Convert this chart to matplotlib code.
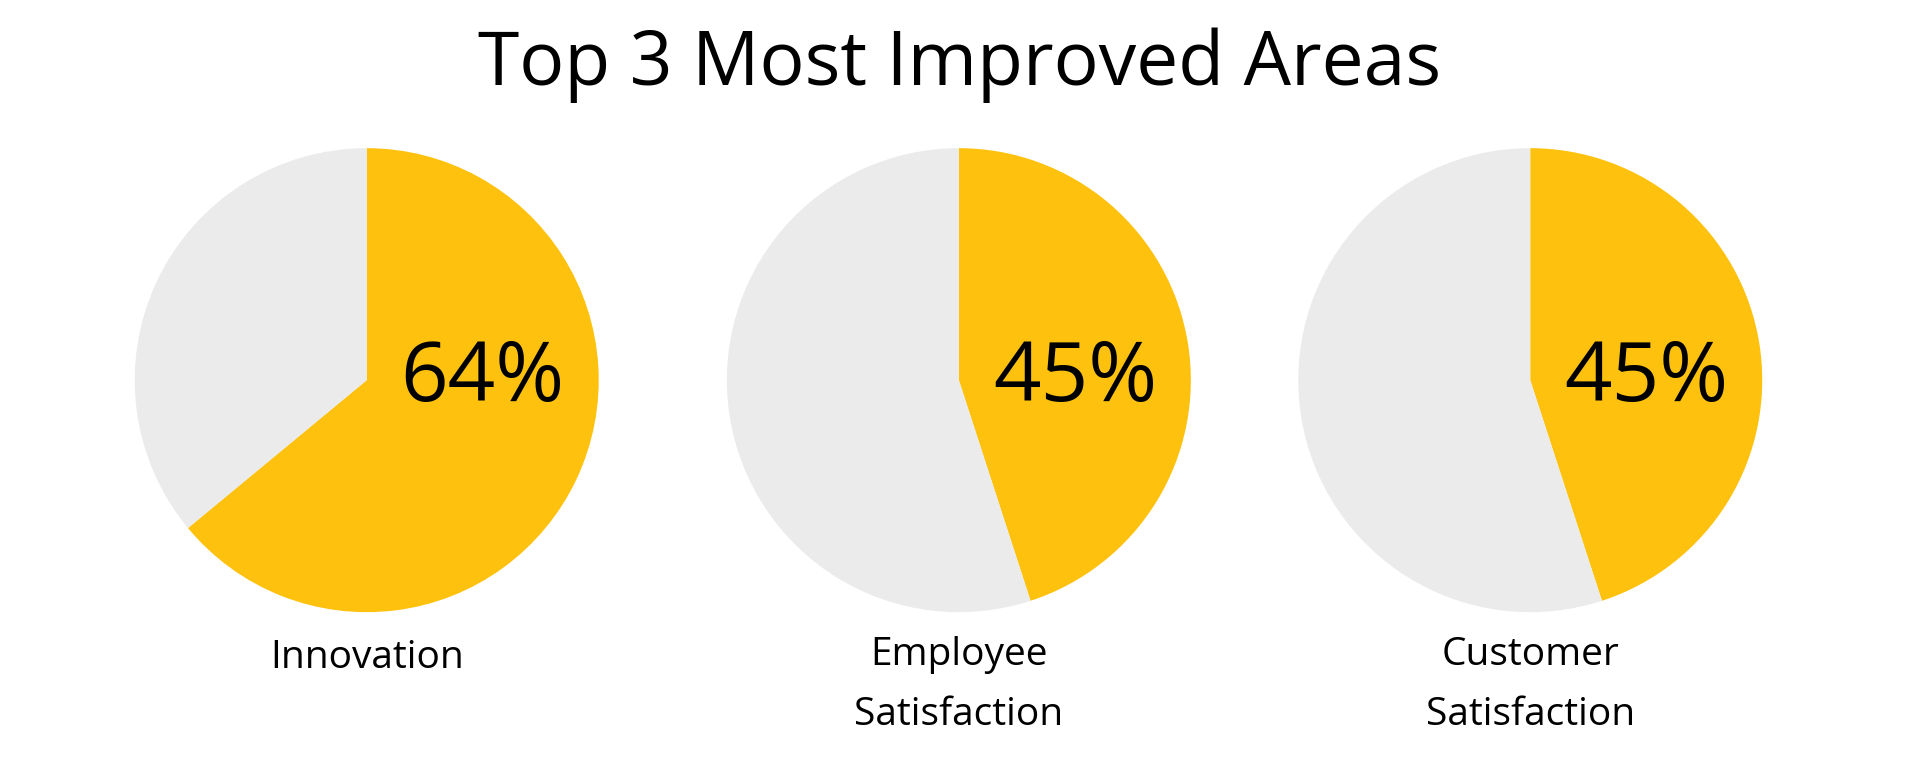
import matplotlib.pyplot as plt

plt.rcParams['font.family'] = ['Open Sans', 'DejaVu Sans']

# data
areas = ['Innovation', 'Employee\nSatisfaction', 'Customer\nSatisfaction']
improved = [64, 45, 45]
centers_x = [0.191, 0.4994, 0.797]   # figure fractions

yellow = '#FDC10E'
grey = '#EBEBEB'

fig = plt.figure(figsize=(19.2, 7.68), dpi=100)
fig.text(0.5, 0.915, 'Top 3 Most Improved Areas', ha='center', va='center', fontsize=54)

W, H = 1920, 768
r_px = 232
cy = 0.505
for name, pct, cx in zip(areas, improved, centers_x):
    w = 2 * r_px / W
    h = 2 * r_px / H
    ax = fig.add_axes([cx - w / 2, cy - h / 2, w, h])
    ax.pie([pct, 100 - pct], colors=[yellow, grey], startangle=90,
           counterclock=False, radius=1)
    ax.set_xlim(-1, 1)
    ax.set_ylim(-1, 1)
    ax.set_aspect('equal')
    ax.axis('off')
    ax.text(0.5, 0.0, f'{pct}%', ha='center', va='center', fontsize=60)
    ylab = 0.143 if '\n' not in name else 0.108
    fig.text(cx, ylab, name, ha='center', va='center', fontsize=28, linespacing=1.75)

fig.savefig('out.png', dpi=100, facecolor='white')
